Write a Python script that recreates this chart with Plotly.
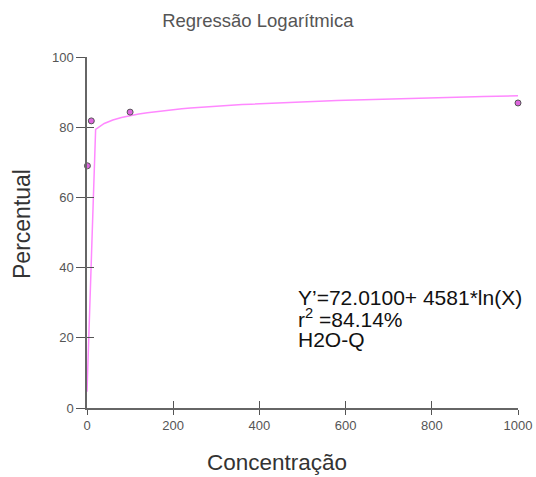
import numpy as np
import plotly.graph_objects as go

# Data
concentracao = [1, 10, 100, 1000]
percentual = [69.0, 81.8, 84.3, 86.9]
curve_x = [1e-12] + list(range(20, 1001, 20))
x_ticks = [0, 200, 400, 600, 800, 1000]
y_ticks = [0, 20, 40, 60, 80, 100]
title_text = "Regressão Logarítmica"
x_title = "Concentração"
y_title = "Percentual"
eq_lines = ["Y’=72.0100+ 4581*ln(X)", "r<sup>2</sup> =84.14%", "H2O-Q"]

# logarithmic fit from the data
b, a = np.polyfit(np.log(concentracao), percentual, 1)
curve_y = [a + b * np.log(v) for v in curve_x]

fig = go.Figure()
fig.add_trace(go.Scatter(x=curve_x, y=curve_y, mode="lines",
                         line=dict(color="#ff88ff", width=1.5),
                         hoverinfo="skip", showlegend=False))
fig.add_trace(go.Scatter(x=concentracao, y=percentual, mode="markers",
                         marker=dict(size=6, color="#dd66dd",
                                     line=dict(color="#555555", width=1)),
                         cliponaxis=False, showlegend=False))
# invisible trace on overlay axes to show inner tick halves
fig.add_trace(go.Scatter(x=concentracao, y=percentual, xaxis="x2", yaxis="y2",
                         mode="markers", marker=dict(opacity=0), hoverinfo="skip",
                         showlegend=False))

font = "Liberation Sans, Arial, sans-serif"
axis_common = dict(showgrid=False, zeroline=False, showline=True, automargin=False,
                   linecolor="#666666", linewidth=1.5,
                   ticks="outside", tickcolor="#555555", tickwidth=1.2,
                   tickfont=dict(family=font, size=13, color="#555555"))
inner_common = dict(ticks="inside", ticklen=7, tickcolor="#555555", tickwidth=1.2,
                    showticklabels=False, showgrid=False, zeroline=False,
                    showline=False, automargin=False)

fig.update_layout(
    width=536, height=477,
    margin=dict(l=87, r=18, t=57, b=69),
    paper_bgcolor="white", plot_bgcolor="white",
    title=dict(text=title_text, x=0.481, xanchor="center", y=0.958, yanchor="middle",
               font=dict(family=font, size=18.5, color="#555555")),
    xaxis=dict(range=[0, 1000], tickvals=x_ticks, ticklen=5, **axis_common),
    yaxis=dict(range=[0, 100], tickvals=y_ticks, ticklen=9, **axis_common),
    xaxis2=dict(range=[0, 1000], tickvals=x_ticks, overlaying="x", side="bottom",
                anchor="y2", **inner_common),
    yaxis2=dict(range=[0, 100], tickvals=y_ticks, overlaying="y", side="left",
                anchor="x2", **inner_common),
)

fig.add_annotation(text=x_title, xref="paper", yref="paper", x=0.441, y=-0.154,
                   xanchor="center", yanchor="middle", showarrow=False,
                   font=dict(family=font, size=22.5, color="#333333"))
fig.add_annotation(text=y_title, xref="paper", yref="paper", x=-0.151, y=0.524,
                   xanchor="center", yanchor="middle", showarrow=False, textangle=-90,
                   font=dict(family=font, size=23, color="#333333"))

for i, t in enumerate(eq_lines):
    fig.add_annotation(text=t, xref="paper", yref="paper", x=0.485, y=0.316 - i * 0.061,
                       xanchor="left", yanchor="middle", showarrow=False,
                       font=dict(family=font, size=21, color="#111111"))

# remove the default page margin so the figure fills the window exactly
fig.write_html("out.html", config={"displayModeBar": False},
               post_script="document.body.style.margin='0';")
